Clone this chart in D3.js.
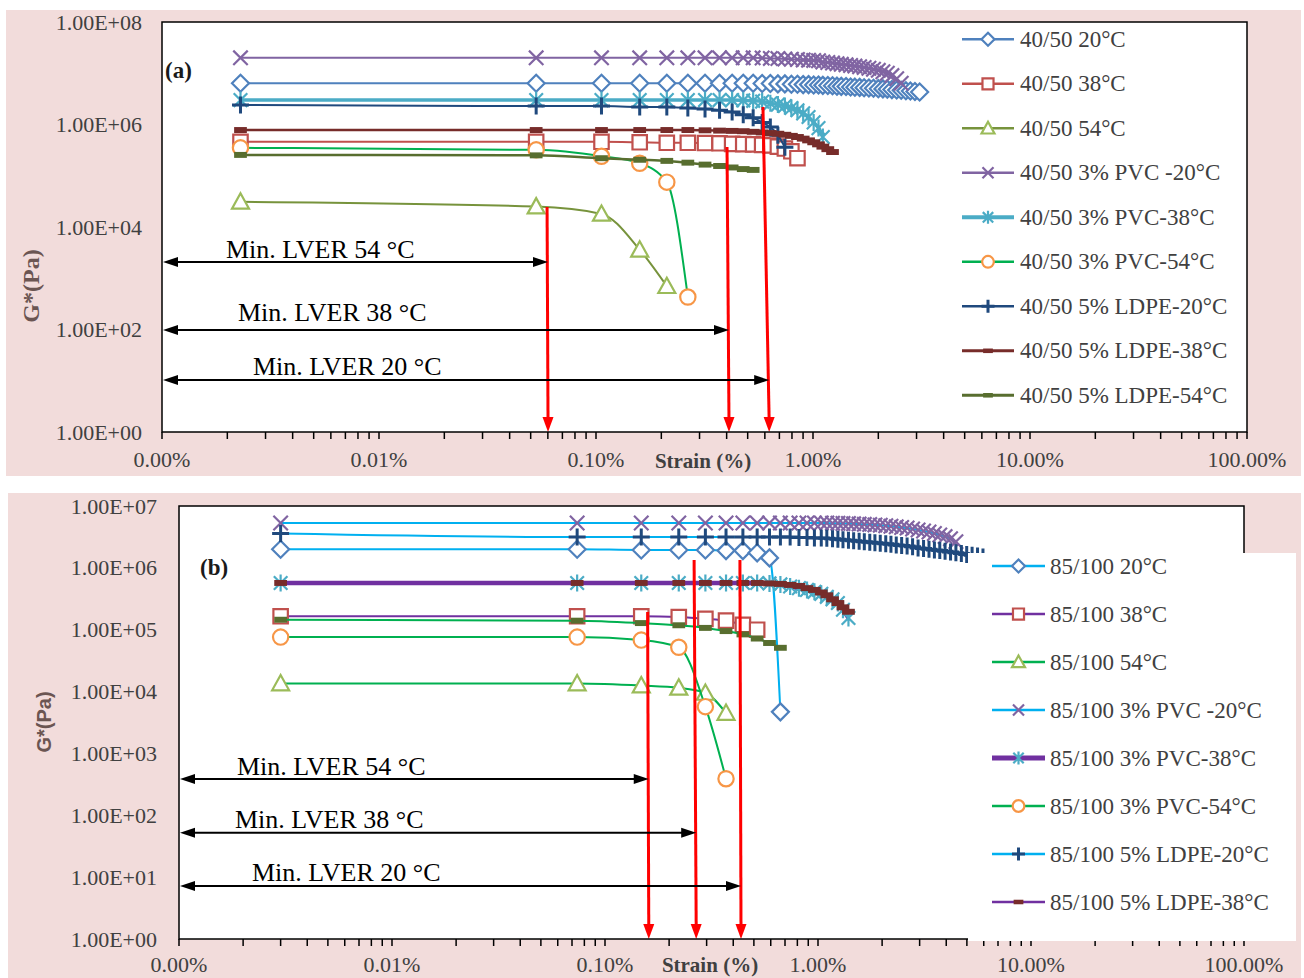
<!DOCTYPE html>
<html>
<head>
<meta charset="utf-8">
<script src="https://cdn.jsdelivr.net/npm/d3@7"></script>
<style>
body { margin: 0; background: #fff; }
svg { display: block; }
</style>
</head>
<body>
<svg id="chart" width="1304" height="978"></svg>
<script>
// ---------- data: panel (a) 40/50 binder ----------
var strainTop = [0.0023, 0.053, 0.106, 0.159, 0.212, 0.265, 0.318, 0.371, 0.424, 0.477,
  0.530, 0.583, 0.636, 0.689, 0.742, 0.795, 0.848, 0.901, 0.954, 1.007,
  1.06, 1.11, 1.17, 1.23, 1.29, 1.35, 1.42, 1.49, 1.56, 1.64,
  1.72, 1.81, 1.90, 2.00, 2.10, 2.20, 2.31, 2.43, 2.55, 2.68,
  2.81, 2.95, 3.10];

var namesTop = ["40/50 20°C", "40/50 38°C", "40/50 54°C", "40/50 3% PVC -20°C", "40/50 3% PVC-38°C",
  "40/50 3% PVC-54°C", "40/50 5% LDPE-20°C", "40/50 5% LDPE-38°C", "40/50 5% LDPE-54°C"];

var gA20 = [6.4e6, 6.4e6, 6.4e6, 6.4e6, 6.4e6, 6.4e6, 6.4e6, 6.4e6, 6.4e6, 6.4e6, 6.4e6,
  6.3e6, 6.3e6, 6.2e6, 6.2e6, 6.1e6, 6.1e6, 6.0e6, 6.0e6, 5.9e6, 5.9e6,
  5.8e6, 5.75e6, 5.7e6, 5.6e6, 5.55e6, 5.5e6, 5.4e6, 5.35e6, 5.3e6, 5.2e6,
  5.15e6, 5.1e6, 5.0e6, 4.95e6, 4.9e6, 4.8e6, 4.7e6, 4.65e6, 4.55e6, 4.5e6, 4.4e6, 4.3e6];
var gA38 = [4.6e5, 4.6e5, 4.6e5, 4.5e5, 4.4e5, 4.4e5, 4.35e5, 4.3e5, 4.2e5, 4.15e5, 4.1e5,
  4.0e5, 3.9e5, 3.7e5, 3.4e5, 3.0e5, 2.2e5];
var gA54 = [3.1e4, 2.5e4, 1.8e4, 3.6e3, 7.0e2];
var gApvc20 = [2.0e7, 2.0e7, 2.0e7, 2.0e7, 2.0e7, 2.0e7, 2.0e7, 2.0e7, 2.0e7, 2.0e7, 2.0e7,
  1.98e7, 1.95e7, 1.93e7, 1.9e7, 1.88e7, 1.85e7, 1.82e7, 1.8e7, 1.78e7, 1.75e7,
  1.66e7, 1.62e7, 1.58e7, 1.54e7, 1.5e7, 1.46e7, 1.42e7, 1.38e7, 1.34e7, 1.3e7,
  1.25e7, 1.2e7, 1.14e7, 1.07e7, 1.0e7, 9.0e6, 7.8e6, 6.4e6];
var gApvc38 = [3.0e6, 3.0e6, 3.0e6, 3.0e6, 3.0e6, 3.0e6, 3.0e6, 3.0e6, 3.0e6, 2.95e6, 2.9e6,
  2.8e6, 2.6e6, 2.45e6, 2.3e6, 2.1e6, 1.9e6, 1.65e6, 1.4e6, 1.1e6, 8.5e5, 5.7e5];
var gApvc54 = [3.5e5, 3.2e5, 2.4e5, 1.75e5, 7.5e4, 4.3e2];
var gAldpe20 = [2.4e6, 2.3e6, 2.3e6, 2.2e6, 2.2e6, 2.1e6, 2.0e6, 1.9e6, 1.75e6, 1.55e6,
  1.35e6, 1.1e6, 8.9e5, 6.2e5, 3.6e5];
var gAldpe38 = [7.8e5, 7.8e5, 7.8e5, 7.8e5, 7.8e5, 7.8e5, 7.7e5, 7.6e5, 7.5e5, 7.4e5, 7.2e5,
  7.0e5, 6.8e5, 6.6e5, 6.3e5, 6.0e5, 5.7e5, 5.3e5, 4.9e5, 4.5e5, 4.1e5, 3.7e5, 3.3e5, 2.9e5];
var gAldpe54 = [2.55e5, 2.5e5, 2.2e5, 2.05e5, 1.95e5, 1.8e5, 1.65e5, 1.55e5, 1.45e5, 1.35e5, 1.3e5];

// ---------- data: panel (b) 85/100 binder ----------
var strainBottom = [0.003, 0.074, 0.148, 0.222, 0.296, 0.370, 0.444, 0.518, 0.592, 0.666,
  0.740, 0.814, 0.888, 0.962, 1.036, 1.10, 1.17, 1.24, 1.31, 1.39,
  1.47, 1.56, 1.65, 1.75, 1.85, 1.96, 2.08, 2.20, 2.33, 2.47,
  2.62, 2.78, 2.95, 3.13, 3.32, 3.52, 3.73, 3.95, 4.19, 4.44,
  4.71, 4.99, 5.29, 5.61, 5.95, 6.30];

var namesBottom = ["85/100 20°C", "85/100 38°C", "85/100 54°C", "85/100 3% PVC -20°C", "85/100 3% PVC-38°C",
  "85/100 3% PVC-54°C", "85/100 5% LDPE-20°C", "85/100 5% LDPE-38°C", "85/100 5% LDPE-54°C"];

var gB20 = [2.0e6, 2.0e6, 1.95e6, 1.95e6, 1.95e6, 1.9e6, 1.9e6, 1.75e6, 1.45e6, 4.7e3];
var gB38 = [1.65e5, 1.65e5, 1.65e5, 1.6e5, 1.5e5, 1.4e5, 1.2e5, 1.0e5];
var gB54 = [1.35e4, 1.35e4, 1.25e4, 1.15e4, 9.5e3, 4.5e3];
var gBpvc20 = [5.3e6, 5.3e6, 5.3e6, 5.3e6, 5.3e6, 5.3e6, 5.3e6, 5.3e6, 5.3e6, 5.3e6,
  5.3e6, 5.3e6, 5.3e6, 5.3e6, 5.3e6, 5.3e6, 5.25e6, 5.25e6, 5.2e6, 5.2e6,
  5.15e6, 5.1e6, 5.05e6, 5.0e6, 4.95e6, 4.9e6, 4.8e6, 4.7e6, 4.6e6, 4.5e6,
  4.4e6, 4.25e6, 4.1e6, 3.95e6, 3.8e6, 3.6e6, 3.4e6, 3.2e6, 2.95e6, 2.65e6];
var gBpvc38 = [5.7e5, 5.7e5, 5.7e5, 5.7e5, 5.7e5, 5.7e5, 5.7e5, 5.7e5, 5.6e5, 5.4e5,
  5.0e5, 4.7e5, 4.4e5, 4.1e5, 3.8e5, 3.4e5, 3.1e5, 2.7e5, 2.1e5, 1.55e5];
var gBpvc54 = [7.6e4, 7.6e4, 6.8e4, 5.2e4, 5.7e3, 3.9e2];
var gBldpe20 = [3.6e6, 3.15e6, 3.15e6, 3.15e6, 3.15e6, 3.15e6, 3.15e6, 3.15e6, 3.15e6, 3.15e6,
  3.15e6, 3.1e6, 3.1e6, 3.05e6, 3.05e6, 3.0e6, 2.95e6, 2.9e6, 2.85e6, 2.8e6,
  2.75e6, 2.7e6, 2.65e6, 2.6e6, 2.55e6, 2.5e6, 2.45e6, 2.4e6, 2.35e6, 2.3e6,
  2.25e6, 2.2e6, 2.1e6, 2.05e6, 2.0e6, 1.95e6, 1.9e6, 1.85e6, 1.8e6, 1.75e6,
  1.7e6, 1.65e6, 1.6e6, 1.55e6, 1.5e6];
var gBldpe38 = [5.7e5, 5.7e5, 5.7e5, 5.7e5, 5.7e5, 5.7e5, 5.7e5, 5.7e5, 5.6e5, 5.5e5,
  5.3e5, 5.1e5, 4.7e5, 4.4e5, 4.0e5, 3.6e5, 3.1e5, 2.7e5, 2.3e5, 1.95e5];
var gBldpe54 = [1.45e5, 1.4e5, 1.28e5, 1.18e5, 1.07e5, 9.5e4, 8.4e4, 7.2e4, 6.1e4, 5.1e4];

// LVER annotations: [label, strain limit (%), G* level of the double arrow]
var lverTop = [["Min. LVER 54 °C", 0.0601, 2075], ["Min. LVER 38 °C", 0.41, 98], ["Min. LVER 20 °C", 0.628, 10.3]];
var lverBottom = [["Min. LVER 54 °C", 0.1605, 386], ["Min. LVER 38 °C", 0.268, 52], ["Min. LVER 20 °C", 0.435, 7.2]];
// red drop lines: [strain at top, strain at axis, G* at top]
var dropsTop = [[0.0595, 0.0601, 2.46e4], [0.4016, 0.41, 3.64e5], [0.588, 0.628, 2.19e6]];
var dropsBottom = [[0.1585, 0.1605, 1.93e5], [0.262, 0.268, 1.34e6], [0.43, 0.435, 1.34e6]];

// ---------- styles ----------
var stylesTop = [
  {line: "#4f81bd", w: 2, marker: "diamond", mc: "#4f81bd"},
  {line: "#c0504d", w: 2, marker: "square", mc: "#c0504d"},
  {line: "#77933c", w: 2, marker: "triangle", mc: "#9bbb59"},
  {line: "#8064a2", w: 2, marker: "x", mc: "#8064a2"},
  {line: "#4bacc6", w: 3.5, marker: "asterisk", mc: "#4bacc6"},
  {line: "#00b050", w: 2, marker: "circle", mc: "#f79646"},
  {line: "#1f497d", w: 2, marker: "plus", mc: "#1f497d"},
  {line: "#772c2a", w: 2.5, marker: "dash", mc: "#772c2a"},
  {line: "#586e2f", w: 2.5, marker: "dash", mc: "#586e2f"}
];
var stylesBottom = [
  {line: "#00b0f0", w: 2, marker: "diamond", mc: "#4f81bd"},
  {line: "#7030a0", w: 2, marker: "square", mc: "#c0504d"},
  {line: "#00b050", w: 2, marker: "triangle", mc: "#9bbb59"},
  {line: "#00b0f0", w: 2, marker: "x", mc: "#8064a2"},
  {line: "#7030a0", w: 4.5, marker: "asterisk", mc: "#4bacc6"},
  {line: "#00b050", w: 2, marker: "circle", mc: "#f79646"},
  {line: "#00b0f0", w: 2, marker: "plus", mc: "#1f497d"},
  {line: "#7030a0", w: 2, marker: "dash", mc: "#772c2a"},
  {line: "#00b050", w: 2, marker: "dash", mc: "#586e2f"}
];

var SERIF = "'Liberation Serif', 'Times New Roman', serif";
var TXT = "#404040";

var markerPaths = {
  diamond: function (s) { return "M0," + (-s) + "L" + s + ",0L0," + s + "L" + (-s) + ",0Z"; },
  square: function (s) { var a = s * 0.85; return "M" + (-a) + "," + (-a) + "h" + 2 * a + "v" + 2 * a + "h" + (-2 * a) + "Z"; },
  triangle: function (s) { return "M0," + (-s) + "L" + s + "," + s * 0.8 + "L" + (-s) + "," + s * 0.8 + "Z"; },
  x: function (s) { var a = s * 0.85; return "M" + (-a) + "," + (-a) + "L" + a + "," + a + "M" + (-a) + "," + a + "L" + a + "," + (-a); },
  asterisk: function (s) { var a = s * 0.8; return "M" + (-a) + "," + (-a) + "L" + a + "," + a + "M" + (-a) + "," + a + "L" + a + "," + (-a) + "M0," + (-s) + "L0," + s; },
  circle: function (s) { var r = s * 0.9; return "M" + r + ",0A" + r + "," + r + " 0 1,1 " + (-r) + ",0A" + r + "," + r + " 0 1,1 " + r + ",0Z"; },
  plus: function (s) { return "M" + (-s) + ",0L" + s + ",0M0," + (-s) + "L0," + s; },
  dash: function (s) { return "M" + (-s * 0.75) + "," + (-s * 0.35) + "h" + 1.5 * s + "v" + 0.7 * s + "h" + (-1.5 * s) + "Z"; }
};

function drawMarker(g, st, x, y, s) {
  var p = g.append("path").attr("d", markerPaths[st.marker](s))
    .attr("transform", "translate(" + x + "," + y + ")");
  if (st.marker === "dash") {
    p.attr("fill", st.mc);
  } else if (st.marker === "x" || st.marker === "asterisk" || st.marker === "plus") {
    p.attr("fill", "none").attr("stroke", st.mc).attr("stroke-width", st.marker === "plus" ? 3 : 2.2);
  } else {
    p.attr("fill", "#fff").attr("stroke", st.mc).attr("stroke-width", 2.2);
  }
}

var svg = d3.select("#chart");

function drawPanel(cfg) {
  var g = svg.append("g");
  g.append("rect").attr("x", cfg.bg[0]).attr("y", cfg.bg[1]).attr("width", cfg.bg[2]).attr("height", cfg.bg[3])
    .attr("fill", "#f2dcdb");
  g.append("rect").attr("x", cfg.left).attr("y", cfg.top).attr("width", cfg.right - cfg.left)
    .attr("height", cfg.bottom - cfg.top).attr("fill", "#fff");

  var x = d3.scaleLog().domain([0.001, 100]).range([cfg.left, cfg.right]);
  var y = d3.scaleLog().domain(cfg.yDomain).range([cfg.bottom, cfg.top]);

  // x ticks (major + minor), pointing down
  var ticks = [];
  for (var d = -3; d < 2; d++) for (var k = 1; k <= 9; k++) ticks.push(k * Math.pow(10, d));
  ticks.push(100);
  g.selectAll(".xt").data(ticks).enter().append("line")
    .attr("x1", function (v) { return x(v); }).attr("x2", function (v) { return x(v); })
    .attr("y1", cfg.bottom).attr("y2", cfg.bottom + 7)
    .attr("stroke", "#000").attr("stroke-width", 1.5);

  g.selectAll(".xl").data([0.001, 0.01, 0.1, 1, 10, 100]).enter().append("text")
    .attr("x", function (v) { return x(v); }).attr("y", cfg.xLabelY)
    .attr("text-anchor", "middle").attr("dominant-baseline", "central")
    .attr("font-family", SERIF).attr("font-size", 22).attr("fill", TXT)
    .text(function (v) { return v.toFixed(2) + "%"; });

  g.selectAll(".yl").data(cfg.yTicks).enter().append("text")
    .attr("x", cfg.yLabelX).attr("y", function (v) { return y(v); })
    .attr("text-anchor", "end").attr("dominant-baseline", "central")
    .attr("font-family", SERIF).attr("font-size", 22).attr("fill", TXT)
    .text(function (v) { return "1.00E+" + String(Math.round(Math.log10(v))).padStart(2, "0"); });

  // series
  var line = d3.line().x(function (p) { return x(p[0]); }).y(function (p) { return y(p[1]); })
    .curve(d3.curveMonotoneX);
  cfg.series.forEach(function (vals, i) {
    var st = cfg.styles[i];
    var pts = vals.map(function (v, j) { return [cfg.strain[j], v]; });
    var sg = g.append("g");
    sg.append("path").attr("d", line(pts)).attr("fill", "none")
      .attr("stroke", st.line).attr("stroke-width", st.w);
    pts.forEach(function (p) { drawMarker(sg, st, x(p[0]), y(p[1]), 8.5); });
  });

  // red drop arrows
  cfg.drops.forEach(function (dr) {
    var xt = x(dr[0]), xb = x(dr[1]), yt = y(dr[2]);
    g.append("line").attr("x1", xt).attr("y1", yt).attr("x2", xb).attr("y2", cfg.bottom - 12)
      .attr("stroke", "#ff0000").attr("stroke-width", 3);
    g.append("path").attr("d", "M" + (xb - 5.5) + "," + (cfg.bottom - 15) + "L" + (xb + 5.5) + "," + (cfg.bottom - 15) +
      "L" + xb + "," + cfg.bottom + "Z").attr("fill", "#ff0000");
  });

  // LVER double arrows + labels
  cfg.lver.forEach(function (lv, i) {
    var xe = x(lv[1]), yy = y(lv[2]), xs = cfg.left + 1;
    g.append("line").attr("x1", xs + 10).attr("x2", xe - 10).attr("y1", yy).attr("y2", yy)
      .attr("stroke", "#000").attr("stroke-width", 2);
    g.append("path").attr("d", "M" + xs + "," + yy + "L" + (xs + 15) + "," + (yy - 5) + "L" + (xs + 15) + "," + (yy + 5) + "Z");
    g.append("path").attr("d", "M" + xe + "," + yy + "L" + (xe - 15) + "," + (yy - 5) + "L" + (xe - 15) + "," + (yy + 5) + "Z");
    g.append("text").attr("x", cfg.left + cfg.lverDx[i]).attr("y", yy + cfg.lverDy[i])
      .attr("font-family", SERIF).attr("font-size", 26).attr("fill", "#000").text(lv[0]);
  });

  // frame
  g.append("rect").attr("x", cfg.left).attr("y", cfg.top).attr("width", cfg.right - cfg.left)
    .attr("height", cfg.bottom - cfg.top).attr("fill", "none").attr("stroke", "#000").attr("stroke-width", 1.5);

  // legend
  var lg = cfg.legend;
  if (lg.box) {
    g.append("rect").attr("x", lg.box[0]).attr("y", lg.box[1]).attr("width", lg.box[2]).attr("height", lg.box[3])
      .attr("fill", "#fff");
  }
  for (var i = 0; i < lg.n; i++) {
    var st = cfg.styles[i], ly = lg.y0 + i * lg.dy;
    g.append("line").attr("x1", lg.x0).attr("x2", lg.x1).attr("y1", ly).attr("y2", ly)
      .attr("stroke", st.line).attr("stroke-width", st.w + 0.5);
    drawMarker(g, st, (lg.x0 + lg.x1) / 2, ly, 6.5);
    g.append("text").attr("x", lg.tx).attr("y", ly).attr("dominant-baseline", "central")
      .attr("font-family", SERIF).attr("font-size", 23).attr("fill", TXT).text(cfg.names[i]);
  }

  // titles
  g.append("text").attr("x", cfg.tag[0]).attr("y", cfg.tag[1]).attr("dominant-baseline", "central")
    .attr("font-family", SERIF).attr("font-weight", "bold").attr("font-size", 23).attr("fill", "#1a1a1a").text(cfg.tag[2]);
  g.append("text").attr("x", cfg.xTitle[0]).attr("y", cfg.xTitle[1]).attr("text-anchor", "middle")
    .attr("dominant-baseline", "central").attr("font-family", SERIF).attr("font-weight", "bold")
    .attr("font-size", 21).attr("fill", TXT).text("Strain (%)");
  g.append("text").attr("transform", "translate(" + cfg.yTitle[0] + "," + cfg.yTitle[1] + ") rotate(-90)")
    .attr("text-anchor", "middle").attr("dominant-baseline", "central")
    .attr("font-family", cfg.yTitle[2]).attr("font-weight", "bold").attr("font-size", cfg.yTitle[3])
    .attr("fill", "#6b5552").text("G*(Pa)");
}

drawPanel({
  bg: [6, 10, 1295, 466], left: 162, right: 1247, top: 22, bottom: 432,
  yDomain: [1, 1e8], yTicks: [1, 1e2, 1e4, 1e6, 1e8], yLabelX: 142, xLabelY: 459,
  strain: strainTop, names: namesTop, styles: stylesTop,
  series: [gA20, gA38, gA54, gApvc20, gApvc38, gApvc54, gAldpe20, gAldpe38, gAldpe54],
  drops: dropsTop, lver: lverTop, lverDx: [64, 76, 91], lverDy: [-4, -9, -5],
  legend: {x0: 962, x1: 1014, tx: 1020, y0: 39.3, dy: 44.5, n: 9, box: null},
  tag: [165, 70, "(a)"], xTitle: [703, 461], yTitle: [31, 286, SERIF, 24]
});

drawPanel({
  bg: [8, 493, 1293, 485], left: 179, right: 1244, top: 506, bottom: 939,
  yDomain: [1, 1e7], yTicks: [1, 1e1, 1e2, 1e3, 1e4, 1e5, 1e6, 1e7], yLabelX: 157, xLabelY: 964,
  strain: strainBottom, names: namesBottom, styles: stylesBottom,
  series: [gB20, gB38, gB54, gBpvc20, gBpvc38, gBpvc54, gBldpe20, gBldpe38, gBldpe54],
  drops: dropsBottom, lver: lverBottom, lverDx: [58, 56, 73], lverDy: [-4, -5, -5],
  legend: {x0: 992, x1: 1045, tx: 1050, y0: 566, dy: 48, n: 8, box: [968, 553, 328, 388]},
  tag: [200, 567, "(b)"], xTitle: [710, 965], yTitle: [44, 722, "'Liberation Sans', Arial, sans-serif", 20]
});
</script>
</body>
</html>
